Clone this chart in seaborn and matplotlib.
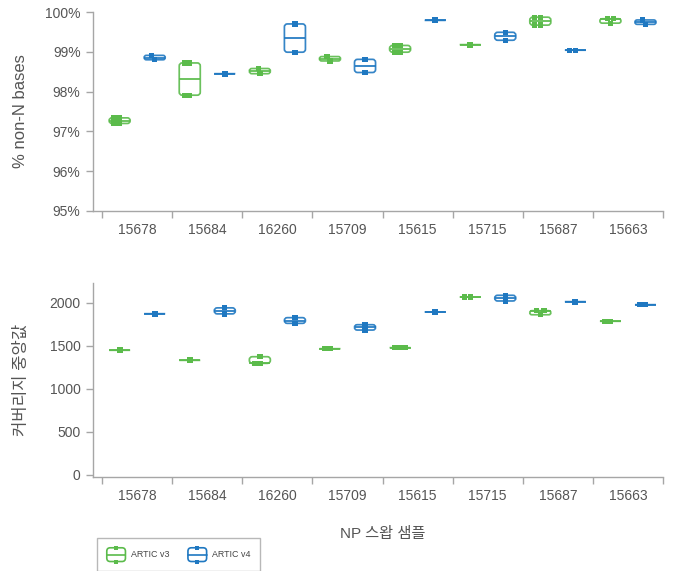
import numpy as np
import pandas as pd
import matplotlib
matplotlib.use("Agg")
import matplotlib.pyplot as plt
import seaborn as sns
from matplotlib.patches import FancyBboxPatch, Patch
from matplotlib.lines import Line2D
from matplotlib.legend_handler import HandlerBase
from matplotlib.transforms import Affine2D
from matplotlib.colors import to_rgba

# ---- data -------------------------------------------------------------
samples = ["15678", "15684", "16260", "15709", "15615", "15715", "15687", "15663"]
kits = ["ARTIC v3", "ARTIC v4"]
kit_colors = ["#5bbb4b", "#1f78c1"]

# percentage of non-N bases per replicate
nonn_v3 = [
    [97.20, 97.20, 97.34, 97.34],
    [97.91, 97.91, 98.72, 98.72],
    [98.45, 98.58],
    [98.77, 98.88],
    [98.99, 98.99, 99.16, 99.16],
    [99.18],
    [99.67, 99.67, 99.87, 99.87],
    [99.72, 99.83, 99.83],
]
nonn_v4 = [
    [98.80, 98.91],
    [98.45],
    [98.99, 99.70],
    [98.48, 98.81],
    [99.79],
    [99.29, 99.49],
    [99.04, 99.04],
    [99.69, 99.80],
]

# median coverage per replicate
cov_v3 = [
    [1447],
    [1330],
    [1295, 1295, 1372],
    [1465, 1465],
    [1477, 1477, 1477],
    [2066, 2066],
    [1860, 1907, 1907],
    [1784, 1784],
]
cov_v4 = [
    [1872],
    [1870, 1940],
    [1760, 1826],
    [1682, 1744],
    [1892],
    [2020, 2086],
    [2012],
    [1977, 1977],
]

pct_ticks = [95, 96, 97, 98, 99, 100]
pct_labels = ["95%", "96%", "97%", "98%", "99%", "100%"]
cov_ticks = [0, 500, 1000, 1500, 2000]
cov_labels = ["0", "500", "1000", "1500", "2000"]

TEXT = "#555555"
AXIS = "#a6a6a6"

# ---- style ------------------------------------------------------------
sns.set_theme(style="ticks")
plt.rcParams["font.family"] = ["Liberation Sans", "Noto Sans CJK KR"]
plt.rcParams["axes.unicode_minus"] = False

W, H = 673, 571
fig = plt.figure(figsize=(W / 100, H / 100), dpi=100)
fig.patch.set_facecolor("white")
ax1 = fig.add_axes([93 / W, 1 - 211 / H, 570 / W, 199 / H])
ax2 = fig.add_axes([93 / W, 1 - 477.3 / H, 570 / W, 194.3 / H])


def long_table(v3, v4):
    rows = []
    for kit, groups in zip(kits, (v3, v4)):
        for s, vals in zip(samples, groups):
            for v in vals:
                rows.append((s, kit, v))
    return pd.DataFrame(rows, columns=["sample", "kit", "value"])


def panel(ax, v3, v4, ylim, yticks, ylabels, ylabel):
    df = long_table(v3, v4)
    groups = (v3, v4)
    sns.boxplot(data=df, x="sample", y="value", hue="kit", order=samples,
                hue_order=kits, palette=kit_colors, fill=False, width=1.0,
                gap=0.4, whis=(0, 100), showcaps=False, showfliers=False,
                whiskerprops={"visible": False}, linewidth=1.25,
                legend=False, ax=ax)
    sns.swarmplot(data=df, x="sample", y="value", hue="kit", order=samples,
                  hue_order=kits, palette=kit_colors, dodge=True, size=3.8,
                  marker="s", linewidth=0, legend=False, ax=ax)
    ax.set_xlim(-0.63, len(samples) - 0.5)
    ax.set_ylim(*ylim)

    # pixel scale of the data axes, for corner rounding
    o = ax.transData.transform((0, 0))
    sx = abs(ax.transData.transform((1, 0))[0] - o[0])
    sy = abs(ax.transData.transform((0, 1))[1] - o[1])

    # replace the square boxes with rounded ones spanning each group's range
    for ln in list(ax.lines):
        xd = np.asarray(ln.get_xdata(), dtype=float)
        if len(xd) != 5:
            continue
        x0, x1 = xd.min(), xd.max()
        c = (x0 + x1) / 2
        k = int(np.floor(c + 0.5))
        h = 0 if c < k else 1
        vals = groups[h][k]
        lo, hi = min(vals), max(vals)
        color = ln.get_color()
        ln.set_visible(False)
        hpx = (hi - lo) * sy
        wpx = (x1 - x0) * sx
        rpx = max(min(3.0, hpx / 2, wpx / 2), 0.0)
        box = FancyBboxPatch((x0, lo), x1 - x0, hi - lo,
                             boxstyle=f"round,pad=0,rounding_size={rpx / sx:.6f}",
                             mutation_aspect=sx / sy, fc="none", ec=color,
                             lw=1.25, alpha=0.9, zorder=2)
        ax.add_patch(box)

    # shift the swarms to sit on the box centres
    green = np.array(to_rgba(kit_colors[0]))
    for coll in ax.collections:
        fc = coll.get_facecolor()
        if len(fc) == 0:
            continue
        is_v3 = np.allclose(fc[0][:3], green[:3], atol=0.02)
        dx = -0.05 if is_v3 else 0.05
        coll.set_offset_transform(Affine2D().translate(dx, 0) + ax.transData)
        coll.set_zorder(3)

    sns.despine(ax=ax)
    for s in ("left", "bottom"):
        ax.spines[s].set_color(AXIS)
        ax.spines[s].set_linewidth(1.0)

    ax.set_xticks(np.arange(-0.5, len(samples)))
    ax.set_xticklabels([])
    ax.set_xticks(np.arange(len(samples)), minor=True)
    ax.set_xticklabels(samples, minor=True)
    ax.tick_params(axis="x", which="major", length=5, width=1, color=AXIS,
                   bottom=True)
    ax.tick_params(axis="x", which="minor", length=0, pad=8.5,
                   labelsize=10, labelcolor=TEXT)
    ax.set_yticks(yticks)
    ax.set_yticklabels(ylabels)
    ax.tick_params(axis="y", length=5, width=1, color=AXIS, pad=4,
                   labelsize=10, labelcolor=TEXT, left=True)
    ax.set_xlabel("")
    ax.set_ylabel(ylabel, fontsize=12, color=TEXT, va="center")
    ax.yaxis.set_label_coords((21 - 93) / 570, 0.5)
    ax.grid(False)


panel(ax1, nonn_v3, nonn_v4, (95, 100), pct_ticks, pct_labels, "% non-N bases")
panel(ax2, cov_v3, cov_v4, (-30, 2229), cov_ticks, cov_labels, "커버리지 중앙값")

fig.text(383 / W, 1 - 534 / H, "NP 스왑 샘플", ha="center", va="center",
         fontsize=11, color=TEXT)


class BoxKey(HandlerBase):
    def create_artists(self, legend, orig_handle, xdescent, ydescent,
                       width, height, fontsize, trans):
        c = orig_handle.get_edgecolor()
        x0, y0 = -xdescent, -ydescent
        box = FancyBboxPatch((x0, y0), width, height,
                             boxstyle="round,pad=0,rounding_size=2.5",
                             fc="none", ec=c, lw=1.2, transform=trans)
        mid = Line2D([x0, x0 + width], [y0 + height / 2] * 2, color=c,
                     lw=1.2, transform=trans)
        dots = Line2D([x0 + width / 2] * 2, [y0, y0 + height], ls="none",
                      marker="s", ms=3.4, mew=0, color=c, transform=trans)
        return [box, mid, dots]


handles = [Patch(facecolor="none", edgecolor=c, label=k)
           for k, c in zip(kits, kit_colors)]
leg = fig.legend(handles=handles, loc="upper left",
                 bbox_to_anchor=(97 / W, 1 - 538 / H), ncol=2, frameon=True,
                 fancybox=False, edgecolor=AXIS, fontsize=6.4,
                 handlelength=2.1, handleheight=2.0, handletextpad=0.6,
                 columnspacing=2.1, borderpad=1.1, borderaxespad=0,
                 handler_map={Patch: BoxKey()})
leg.get_frame().set_linewidth(1.0)
for t in leg.get_texts():
    t.set_color("#444444")

fig.savefig("out.png", dpi=100, facecolor="white")
